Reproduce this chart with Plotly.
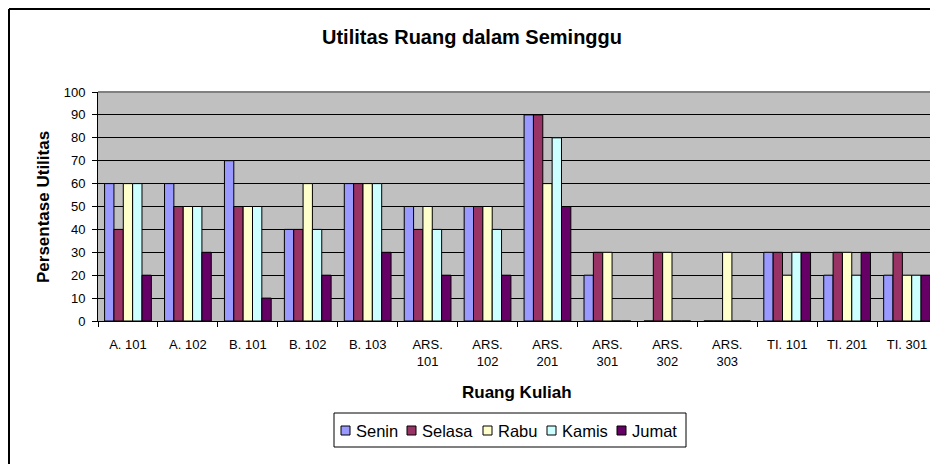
import plotly.graph_objects as go

rooms = ["A. 101", "A. 102", "B. 101", "B. 102", "B. 103", "ARS.<br>101", "ARS.<br>102",
         "ARS.<br>201", "ARS.<br>301", "ARS.<br>302", "ARS.<br>303", "TI. 101", "TI. 201", "TI. 301"]
senin  = [60, 60, 70, 40, 60, 50, 50, 90, 20, 0, 0, 30, 20, 20]
selasa = [40, 50, 50, 40, 60, 40, 50, 90, 30, 30, 0, 30, 30, 30]
rabu   = [60, 50, 50, 60, 60, 50, 50, 60, 30, 30, 30, 20, 30, 20]
kamis  = [60, 50, 50, 40, 60, 40, 40, 80, 0, 0, 0, 30, 20, 20]
jumat  = [20, 30, 10, 20, 30, 20, 20, 50, 0, 0, 0, 30, 30, 20]
y_ticks = [0, 10, 20, 30, 40, 50, 60, 70, 80, 90, 100]

names = ["Senin", "Selasa", "Rabu", "Kamis", "Jumat"]
values = [senin, selasa, rabu, kamis, jumat]
colors = ["#9999FF", "#993366", "#FFFFCC", "#CCFFFF", "#660066"]

FONT = "Liberation Sans, Arial, sans-serif"
OFF = 8  # page body margin in the browser
W, H = 938 - OFF, 464 - OFF


def fx(sx):
    return sx - OFF


def fy(sy):
    return sy - OFF


L = fx(98)
R = W - fx(937)
T = fy(92)
B = H - fy(321)
pw, ph = W - L - R, H - T - B


def px(x):  # figure pixel x -> paper
    return (x - L) / pw


def py(y):  # figure pixel y (from top) -> paper
    return (T + ph - y) / ph


fig = go.Figure()
for name, vals, col in zip(names, values, colors):
    fig.add_trace(go.Bar(x=rooms, y=vals, name=name, showlegend=False,
                         marker=dict(color=col, line=dict(color="black", width=1))))

shapes = [
    dict(type="line", xref="paper", yref="paper", x0=0, x1=1, y0=1, y1=1,
         line=dict(color="#808080", width=2)),
    dict(type="line", xref="paper", yref="paper", x0=1, x1=1, y0=0, y1=1,
         line=dict(color="#808080", width=2)),
    # outer chart frame (left and top edges visible)
    dict(type="line", xref="paper", yref="paper", x0=px(1), x1=px(1), y0=py(H + 5), y1=py(1),
         line=dict(color="black", width=2)),
    dict(type="line", xref="paper", yref="paper", x0=px(1), x1=px(W + 5), y0=py(1), y1=py(1),
         line=dict(color="black", width=2)),
    # legend frame
    dict(type="rect", xref="paper", yref="paper", x0=px(fx(334)), x1=px(fx(686)),
         y0=py(fy(447)), y1=py(fy(413)), fillcolor="white", line=dict(color="black", width=1)),
]

annotations = [
    dict(text="<b>Persentase Utilitas</b>", xref="paper", yref="paper",
         x=px(fx(43)), y=py(fy(207)), textangle=-90, showarrow=False,
         font=dict(size=17, family=FONT), xanchor="center", yanchor="middle"),
    dict(text="<b>Ruang Kuliah</b>", xref="paper", yref="paper",
         x=px(fx(517)), y=py(fy(392)), showarrow=False,
         font=dict(size=17, family=FONT), xanchor="center", yanchor="middle"),
]

# legend entries (square + label)
sq_left = [341, 407, 483, 547, 617]
for name, col, sx in zip(names, colors, sq_left):
    shapes.append(dict(type="rect", xref="paper", yref="paper",
                       x0=px(fx(sx)), x1=px(fx(sx + 9)), y0=py(fy(435)), y1=py(fy(426)),
                       fillcolor=col, line=dict(color="black", width=1)))
    annotations.append(dict(text=name, xref="paper", yref="paper",
                            x=px(fx(sx + 14)), y=py(fy(430.5)), showarrow=False,
                            xanchor="left", yanchor="middle", borderpad=0,
                            font=dict(size=16.5, family=FONT)))

fig.update_layout(
    width=W, height=H,
    margin=dict(l=L, r=R, t=T, b=B, autoexpand=False),
    paper_bgcolor="white", plot_bgcolor="#C0C0C0",
    font=dict(family=FONT, color="black", size=13),
    barmode="group", bargap=0.22, bargroupgap=0,
    showlegend=False,
    title=dict(text="<b>Utilitas Ruang dalam Seminggu</b>", x=fx(472) / W, xanchor="center",
               y=1 - fy(37) / H, yanchor="middle", font=dict(size=20, family=FONT)),
    xaxis=dict(type="category", tickson="boundaries", ticks="outside", ticklen=5,
               tickcolor="black", showline=True, linecolor="black", linewidth=1,
               showgrid=False, tickfont=dict(size=13), fixedrange=True,
               ticklabelstandoff=11),
    yaxis=dict(range=[0, 100], tickvals=y_ticks, ticks="outside", ticklen=5,
               tickcolor="black", showline=True, linecolor="black", linewidth=1,
               showgrid=True, gridcolor="black", gridwidth=1, zeroline=False,
               tickfont=dict(size=13), ticklabelstandoff=4, fixedrange=True),
    shapes=shapes,
    annotations=annotations,
)

fig.write_html("out.html")
